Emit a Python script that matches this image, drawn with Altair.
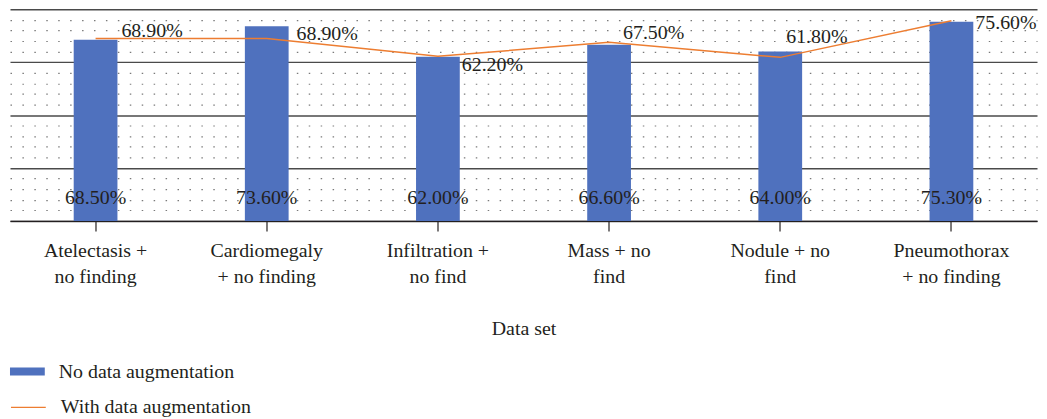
import altair as alt
import pandas as pd

categories = ["Atelectasis +\nno finding", "Cardiomegaly\n+ no finding", "Infiltration +\nno find",
              "Mass + no\nfind", "Nodule + no\nfind", "Pneumothorax\n+ no finding"]
no_aug = [68.5, 73.6, 62.0, 66.6, 64.0, 75.3]
with_aug = [68.9, 68.9, 62.2, 67.5, 61.8, 75.6]
series_names = ["No data augmentation", "With data augmentation"]
axis_title = "Data set"

df = pd.DataFrame({"cat": categories, "no_aug": no_aug, "with_aug": with_aug})
df["s1"] = series_names[0]
df["s2"] = series_names[1]
df["no_lbl"] = [f"{v:.2f}%" for v in no_aug]
df["with_lbl"] = [f"{v:.2f}%" for v in with_aug]

FONT = "Liberation Serif"
FS = 20
TXT = "#231F20"
BLUE = "#4F71BE"
ORANGE = "#ED7D31"

x_axis = alt.Axis(title=axis_title, labelAngle=0,
                  labelExpr="split(datum.label, '\\n')",
                  labelFont=FONT, labelFontSize=FS, labelColor=TXT,
                  labelLineHeight=26, labelPadding=10,
                  labelBaseline="top",
                  titleFont=FONT, titleFontSize=FS, titleColor=TXT,
                  titleFontWeight="normal", titlePadding=32,
                  domainColor=TXT, domainWidth=1.3,
                  tickColor=TXT, tickSize=10, tickWidth=1.2,
                  grid=False)
x_enc = alt.X("cat:N", sort=categories, title=axis_title,
              scale=alt.Scale(paddingInner=0, paddingOuter=0), axis=x_axis)

major = "datum.value % 20 === 0"
y_axis = alt.Axis(values=list(range(0, 81, 4)), labels=False, ticks=False,
                  domain=False, grid=True,
                  gridDash={"condition": {"test": major, "value": []}, "value": [1.5, 10.5]},
                  gridColor={"condition": {"test": major, "value": "#4a4a4a"}, "value": "#7a7a7a"},
                  gridWidth={"condition": {"test": major, "value": 1.4}, "value": 1.2})
y_scale = alt.Scale(domain=[0, 80], nice=False, zero=True)


def y_enc(field):
    return alt.Y(field, scale=y_scale, title=None, axis=y_axis)


base = alt.Chart(df)

bars = base.mark_bar(size=44).encode(
    x=x_enc,
    y=y_enc("no_aug:Q"),
    fill=alt.Fill("s1:N", scale=alt.Scale(range=[BLUE]),
                  legend=alt.Legend(title=None, orient="none", legendX=0, legendY=347,
                                    symbolType="M-1,-0.23H1V0.23H-1Z", symbolSize=1225,
                                    symbolStrokeWidth=0, labelFont=FONT, labelFontSize=FS,
                                    labelColor=TXT, labelOffset=14, labelLimit=400)),
)

bar_labels = base.mark_text(font=FONT, fontSize=FS, color=TXT, baseline="middle",
                            align="center", dy=-23).encode(
    x=x_enc,
    y=alt.Y(datum=0, scale=y_scale, title=None, axis=y_axis),
    text="no_lbl:N",
)

line = base.mark_line(strokeWidth=1.5).encode(
    x=x_enc,
    y=y_enc("with_aug:Q"),
    stroke=alt.Stroke("s2:N", scale=alt.Scale(range=[ORANGE]),
                      legend=alt.Legend(title=None, orient="none", legendX=0, legendY=382,
                                        symbolType="stroke", symbolSize=1225,
                                        symbolStrokeWidth=1.5, labelFont=FONT, labelFontSize=FS,
                                        labelColor=TXT, labelOffset=14, labelLimit=400)),
)


def line_label(cats, dx, dy):
    return base.transform_filter(
        alt.FieldOneOfPredicate(field="cat", oneOf=cats)
    ).mark_text(font=FONT, fontSize=FS, color=TXT, align="left", baseline="middle",
                dx=dx, dy=dy).encode(
        x=x_enc,
        y=y_enc("with_aug:Q"),
        text="with_lbl:N",
    )


labels = [
    line_label([categories[0]], 26, -8),
    line_label([categories[1]], 30, -5),
    line_label([categories[2]], 24, 9),
    line_label([categories[3]], 14, -9),
    line_label([categories[4]], 6, -20),
    line_label([categories[5]], 24, 2),
]

chart = alt.layer(bars, bar_labels, line, *labels).properties(
    width=1033, height=213,
    padding={"left": 2, "top": 0, "right": 2, "bottom": 198},
    autosize=alt.AutoSizeParams(type="none"),
    background="white",
).configure_view(stroke=None)

chart.save("out.html", embed_options={"renderer": "svg", "actions": False})
